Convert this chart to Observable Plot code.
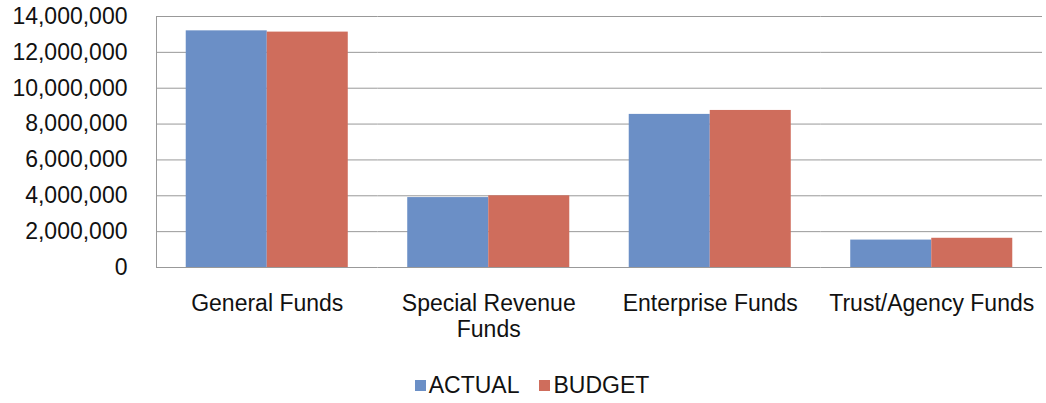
<!DOCTYPE html>
<html><head><meta charset="utf-8">
<script src="https://cdn.jsdelivr.net/npm/d3@7"></script>
<script src="https://cdn.jsdelivr.net/npm/@observablehq/plot@0.6"></script>
<style>
body{margin:0;background:#fff;font-family:"Liberation Sans",Arial,sans-serif;}
#legend{height:53px;display:flex;justify-content:center;align-items:center;font-size:23px;color:#111;padding-left:18px;box-sizing:border-box;padding-top:17px;}
.item{display:flex;align-items:center;margin:0 10px;}
.sw{width:11px;height:11px;margin-right:3px;}
</style></head>
<body><div id="chart"></div><div id="legend"></div>
<script>
const funds = ["General Funds", "Special Revenue Funds", "Enterprise Funds", "Trust/Agency Funds"];
const fundLabels = ["General Funds", "Special Revenue\nFunds", "Enterprise Funds", "Trust/Agency Funds"];
const seriesNames = ["ACTUAL", "BUDGET"];
const actual = [13200000, 3900000, 8540000, 1530000];
const budget = [13130000, 4000000, 8760000, 1630000];
const yTicks = [0, 2000000, 4000000, 6000000, 8000000, 10000000, 12000000, 14000000];
const colors = ["#6b8fc6", "#cf6d5c"];

const data = [];
funds.forEach((f, i) => {
  data.push({fund: f, series: "ACTUAL", value: actual[i]});
  data.push({fund: f, series: "BUDGET", value: budget[i]});
});
const labelOf = new Map(funds.map((f, i) => [f, fundLabels[i]]));

const chart = Plot.plot({
  width: 1046, height: 350,
  marginTop: 16, marginBottom: 83, marginLeft: 156, marginRight: 4,
  style: {fontFamily: "Liberation Sans, Arial, sans-serif", background: "#fff", color: "#111"},
  fx: {domain: funds, padding: 0, round: false, label: null},
  x: {domain: seriesNames, paddingInner: 0, paddingOuter: 0.367, round: false, axis: null},
  y: {domain: [0, 14000000], axis: null},
  color: {domain: seriesNames, range: colors},
  marks: [
    Plot.gridY(yTicks, {stroke: "#999", strokeOpacity: 1, strokeWidth: 1}),
    Plot.frame({anchor: "left", facetAnchor: "left", stroke: "#999"}),
    Plot.barY(data, {fx: "fund", x: "series", y: "value", fill: "series", inset: 0}),
    Plot.axisY(yTicks, {tickSize: 0, tickPadding: 29, fontSize: 23, tickFormat: d3.format(","), label: null}),
    Plot.axisFx({anchor: "bottom", tickSize: 0, tickPadding: 26, fontSize: 23, lineHeight: 1.1, tickFormat: d => labelOf.get(d), label: null})
  ]
});
document.getElementById("chart").appendChild(chart);

const legend = document.getElementById("legend");
seriesNames.forEach((s, i) => {
  const it = document.createElement("div"); it.className = "item";
  const sw = document.createElement("div"); sw.className = "sw"; sw.style.background = colors[i];
  const t = document.createElement("span"); t.textContent = s;
  it.appendChild(sw); it.appendChild(t); legend.appendChild(it);
});
</script></body></html>
